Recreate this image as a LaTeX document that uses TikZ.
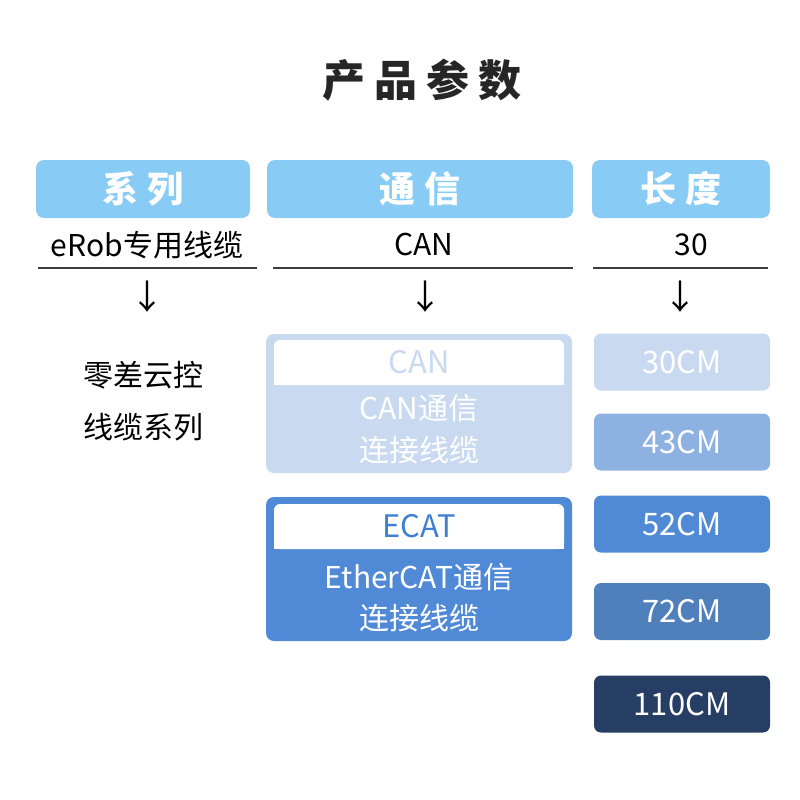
\documentclass[tikz,border=0pt]{standalone}
\usepackage{fontspec}
\setmainfont{Noto Sans CJK SC}
\definecolor{hdr}{RGB}{136,204,245}
\definecolor{pale}{RGB}{200,217,240}
\definecolor{mid}{RGB}{80,138,214}
\definecolor{l43}{RGB}{141,178,225}
\definecolor{l72}{RGB}{80,128,188}
\definecolor{dark}{RGB}{38,62,100}
\definecolor{ecat}{RGB}{64,128,208}
\definecolor{rule}{RGB}{60,60,60}
\tikzset{
  hbox/.style={fill=hdr, rounded corners=8pt, inner sep=0pt, minimum height=58pt, text=white, font=\fontsize{36}{36}\selectfont\bfseries},
  plain/.style={inner sep=0pt, text=black, font=\fontsize{30}{30}\selectfont},
  darrow/.style={inner sep=0pt, text=black, font=\fontsize{34}{34}\selectfont},
  outer/.style={rounded corners=8pt, inner sep=0pt, minimum width=306pt},
  inner/.style={fill=white, rounded corners=6pt, inner sep=0pt, minimum width=290pt, minimum height=45pt, font=\fontsize{31}{31}\selectfont},
  wtext/.style={inner sep=0pt, text=white, font=\fontsize{30}{30}\selectfont},
  lbox/.style={rounded corners=7pt, inner sep=0pt, minimum width=176pt, minimum height=57pt, text=white, font=\fontsize{31}{31}\selectfont},
  hline/.style={draw=rule, line width=1.3pt}
}
\begin{document}
\begin{tikzpicture}[x=1pt,y=-1pt]
\useasboundingbox (0,0) rectangle (800,800);
% title
\node[inner sep=0pt, font=\fontsize{43}{43}\selectfont\bfseries, text=black!85] (title) at (422,80) {产\hspace{9pt}品\hspace{9pt}参\hspace{9pt}数};
% headers
\node[hbox, minimum width=214pt] (h1) at (143,189) {系\hspace{9pt}列};
\node[hbox, minimum width=306pt] (h2) at (420,189) {通\hspace{9pt}信};
\node[hbox, minimum width=178pt] (h3) at (681,189) {长\hspace{9pt}度};
% row values
\node[plain] (v1) at (147,245) {eRob专用线缆};
\node[plain] (v2) at (424,245) {CAN};
\node[plain] (v3) at (691,245) {30};
% rules
\coordinate (l1a) at (38,268); \coordinate (l1b) at (257,268);
\coordinate (l2a) at (273,268); \coordinate (l2b) at (573,268);
\coordinate (l3a) at (593,268); \coordinate (l3b) at (768,268);
\draw[hline] (l1a) -- (l1b);
\draw[hline] (l2a) -- (l2b);
\draw[hline] (l3a) -- (l3b);
% arrows
\node[darrow] (a1) at (147,297) {↓};
\node[darrow] (a2) at (425,297) {↓};
\node[darrow] (a3) at (680,297) {↓};
% series text
\node[plain] (s1) at (143,375) {零差云控};
\node[plain] (s2) at (143,427) {线缆系列};
% CAN box
\node[outer, fill=pale, minimum height=139pt] (canbox) at (419,403.5) {};
\fill[white] (274,363) rectangle (564,385);
\node[inner, text=pale] (canin) at (419,362.5) {CAN};
\node[wtext] (cant1) at (419,408) {CAN通信};
\node[wtext] (cant2) at (419,450) {连接线缆};
% ECAT box
\node[outer, fill=mid, minimum height=144pt] (ecbox) at (419,569) {};
\fill[white] (274,527) rectangle (564,549);
\node[inner, text=ecat] (ecin) at (419,526.5) {ECAT};
\node[wtext] (ect1) at (419,577) {EtherCAT通信};
\node[wtext] (ect2) at (419,618) {连接线缆};
% length boxes
\node[lbox, fill=pale] (c30) at (682,362) {30CM};
\node[lbox, fill=l43] (c43) at (682,442) {43CM};
\node[lbox, fill=mid] (c52) at (682,524) {52CM};
\node[lbox, fill=l72] (c72) at (682,611.5) {72CM};
\node[lbox, fill=dark] (c110) at (682,704) {110CM};
\end{tikzpicture}
\end{document}
